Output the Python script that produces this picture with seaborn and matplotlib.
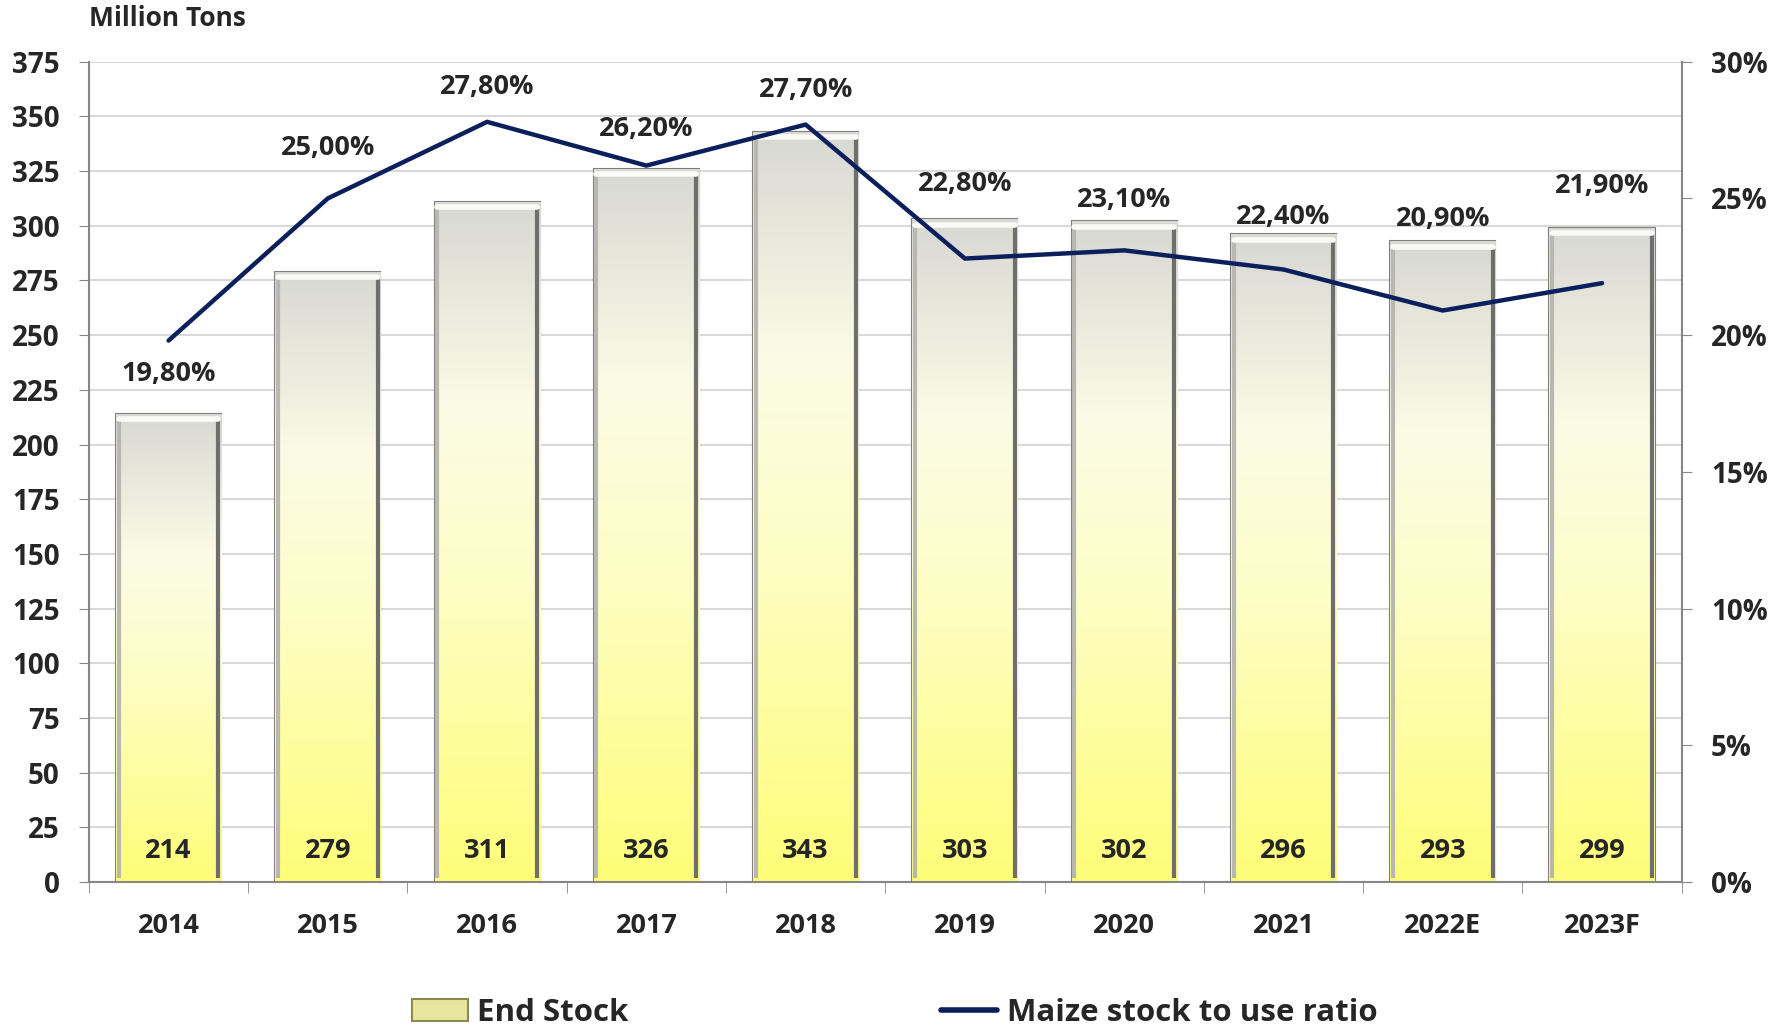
import numpy as np
import pandas as pd
import seaborn as sns
import matplotlib.pyplot as plt
from matplotlib.patches import Patch
from matplotlib.lines import Line2D
from matplotlib.colors import LinearSegmentedColormap

years = ["2014", "2015", "2016", "2017", "2018", "2019", "2020", "2021", "2022E", "2023F"]
end_stock = [214, 279, 311, 326, 343, 303, 302, 296, 293, 299]
ratio = [19.8, 25.0, 27.8, 26.2, 27.7, 22.8, 23.1, 22.4, 20.9, 21.9]

# manual label offsets (points, + = up), as placed in the original
label_dy = [-24, 36, 25, 26, 25, 54, 36, 38, 66, 70]

sns.set_style("white")
plt.rcParams["font.family"] = ["Open Sans", "DejaVu Sans"]
plt.rcParams["font.weight"] = "bold"

df = pd.DataFrame({"Year": years, "End Stock": end_stock, "Ratio": ratio})

fig = plt.figure(figsize=(17.89, 10.28), dpi=100)
ax = fig.add_axes([0.0497, 0.142, 0.8903, 0.798])

sns.barplot(data=df, x="Year", y="End Stock", ax=ax, color="white", width=0.66,
            edgecolor="#7f7f7f", linewidth=1.5, zorder=2)

# gradient fill: grey top -> ivory -> yellow bottom
cmap = LinearSegmentedColormap.from_list(
    "stock", [(0.0, "#fdfd78"), (0.45, "#fefec8"), (0.7, "#fbfbe6"), (1.0, "#d8d8d4")])
grad = np.linspace(0, 1, 256).reshape(-1, 1)
for p in ax.patches:
    x0, y0 = p.get_x(), p.get_y()
    w, h = p.get_width(), p.get_height()
    im = ax.imshow(grad, cmap=cmap, origin="lower", aspect="auto",
                   extent=(x0, x0 + w, y0, y0 + h), zorder=2.5)
    im.set_clip_path(p)
    # bevel: dark right edge, light left, pale top
    ax.plot([x0 + w * 0.975, x0 + w * 0.975], [y0 + 2, y0 + h - 3], color="#6e6e6e", lw=3, zorder=3, solid_capstyle="butt")
    ax.plot([x0 + w * 0.025, x0 + w * 0.025], [y0 + 2, y0 + h - 3], color="#b8b8b0", lw=3, zorder=3, solid_capstyle="butt")
    ax.plot([x0 + w * 0.025, x0 + w * 0.975], [y0 + h - 2.5, y0 + h - 2.5], color="#fafaf6", lw=4, zorder=3)
    ax.text(x0 + w / 2, 14, f"{int(round(h))}", ha="center", va="center",
            fontsize=19.5, fontweight="bold", zorder=4)

ax.set_xlim(-0.5, len(years) - 0.5)
ax.set_ylim(0, 375)
ax.set_yticks(np.arange(0, 376, 25))
ax.yaxis.grid(True, color="#d9d9d9", lw=1.5, zorder=0)
ax.set_axisbelow(True)
ax.set_xlabel("")
ax.set_ylabel("")
ax.tick_params(axis="y", labelsize=20, length=7, color="#868686", direction="out", left=True, pad=14)
ax.tick_params(axis="x", which="major", labelsize=19.5, length=0, pad=22)
ax.set_xticks(np.arange(-0.5, len(years), 1.0), minor=True)
ax.tick_params(axis="x", which="minor", length=8, color="#868686", direction="out", bottom=True)
for lab in ax.get_xticklabels() + ax.get_yticklabels():
    lab.set_fontweight("bold")
for s in ["top", "right"]:
    ax.spines[s].set_visible(False)
for s in ["left", "bottom"]:
    ax.spines[s].set_color("#868686")
    ax.spines[s].set_linewidth(1.5)

ax2 = ax.twinx()
xpos = np.arange(len(years))
sns.lineplot(x=xpos, y=ratio, ax=ax2, color="#0b1f5c", lw=3.2, zorder=5)
ax2.set_ylim(0, 30)
ax2.set_yticks(np.arange(0, 31, 5))
ax2.set_yticklabels([f"{v}%" for v in range(0, 31, 5)])
ax2.tick_params(axis="y", labelsize=20, length=7, color="#868686", direction="out", right=True, pad=14)
for lab in ax2.get_yticklabels():
    lab.set_fontweight("bold")
for s in ["top", "left", "bottom"]:
    ax2.spines[s].set_visible(False)
ax2.spines["right"].set_color("#868686")
ax2.spines["right"].set_linewidth(1.5)

for i, (r, dy) in enumerate(zip(ratio, label_dy)):
    ax2.annotate(f"{r:.2f}%".replace(".", ","), (i, r), xytext=(0, dy), textcoords="offset points",
                 ha="center", va="center", fontsize=19.5, fontweight="bold", zorder=6)

fig.text(89 / 1789, 0.982, "Million Tons", ha="left", va="center", fontsize=19, fontweight="bold")

handles = [Patch(facecolor="#e6e6a0", edgecolor="#8a8a50", linewidth=1.5),
           Line2D([0], [0], color="#0b1f5c", lw=4)]
fig.legend(handles, ["End Stock", "Maize stock to use ratio"], loc="center", bbox_to_anchor=(0.5, 0.015),
           ncol=2, frameon=False, prop={"size": 22.5, "weight": "bold"}, columnspacing=10,
           handlelength=1.8, handletextpad=0.3)

fig.savefig("out.png", dpi=100)
